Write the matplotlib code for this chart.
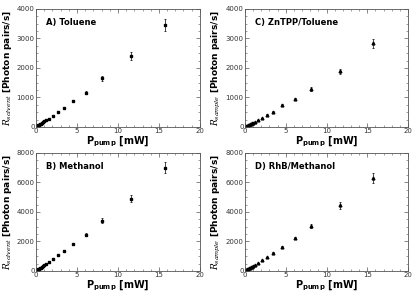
import matplotlib.pyplot as plt
from matplotlib.ticker import MultipleLocator

plt.rcParams['mathtext.fontset'] = 'custom'
plt.rcParams['mathtext.it'] = 'DejaVu Serif:italic'
plt.rcParams['mathtext.rm'] = 'DejaVu Serif'
plt.rcParams['mathtext.bf'] = 'DejaVu Sans:bold'

# pump power in mW (same set of points for all panels)
p_pump = [0.05, 0.1, 0.15, 0.2, 0.3, 0.4, 0.5, 0.6, 0.7, 0.8, 1.0, 1.2,
          1.6, 2.1, 2.7, 3.45, 4.5, 6.1, 8.1, 11.6, 15.7]

# A) Toluene (solvent)
r_toluene = [10, 20, 30, 40, 60, 80, 100, 115, 135, 155, 190, 230,
             280, 383, 500, 655, 890, 1165, 1650, 2400, 3450]
e_toluene = [0, 0, 0, 0, 0, 0, 0, 0, 0, 0, 0, 0,
             10, 12, 15, 20, 30, 45, 80, 130, 200]

# B) Methanol (solvent)
r_methanol = [20, 40, 60, 80, 120, 160, 200, 235, 275, 310, 390, 470,
              580, 780, 1050, 1350, 1800, 2450, 3400, 4900, 7000]
e_methanol = [0, 0, 0, 0, 0, 0, 0, 0, 0, 0, 0, 0,
              20, 25, 35, 45, 60, 90, 170, 260, 380]

# C) ZnTPP/Toluene (sample)
r_zntpp = [8, 15, 23, 30, 45, 60, 75, 90, 105, 120, 150, 180,
           240, 310, 420, 510, 740, 950, 1300, 1880, 2830]
e_zntpp = [0, 0, 0, 0, 0, 0, 0, 0, 0, 0, 0, 0,
           8, 10, 12, 15, 30, 40, 70, 100, 150]

# D) RhB/Methanol (sample)
r_rhb = [18, 36, 54, 72, 108, 144, 180, 215, 250, 285, 355, 430,
         540, 720, 930, 1220, 1650, 2250, 3050, 4450, 6300]
e_rhb = [0, 0, 0, 0, 0, 0, 0, 0, 0, 0, 0, 0,
         15, 20, 30, 40, 60, 80, 150, 220, 330]

fig = plt.figure(figsize=(4.16, 2.96), dpi=100)

panels = [
    ([0.0865, 0.571, 0.394, 0.399], r_toluene, e_toluene, 's', 'A) Toluene', 4000, 'solvent'),
    ([0.589, 0.571, 0.392, 0.399], r_zntpp, e_zntpp, '^', 'C) ZnTPP/Toluene', 4000, 'sample'),
    ([0.0865, 0.0845, 0.394, 0.399], r_methanol, e_methanol, 's', 'B) Methanol', 8000, 'solvent'),
    ([0.589, 0.0845, 0.392, 0.399], r_rhb, e_rhb, '^', 'D) RhB/Methanol', 8000, 'sample'),
]

for rect, y, err, marker, title, ymax, sub in panels:
    ax = fig.add_axes(rect)
    ax.errorbar(p_pump, y, yerr=err, fmt=marker, color='black', ms=2.0,
                elinewidth=0.5, capsize=0.8, capthick=0.5)
    ax.set_xlim(0, 20)
    ax.set_ylim(0, ymax)
    ax.xaxis.set_major_locator(MultipleLocator(5))
    ax.xaxis.set_minor_locator(MultipleLocator(1))
    ax.yaxis.set_major_locator(MultipleLocator(ymax / 4))
    ax.yaxis.set_minor_locator(MultipleLocator(ymax / 16))
    ax.tick_params(which='both', direction='in', top=True, right=True,
                   labelsize=5, labelcolor='#333333', pad=1, color='#555555')
    ax.tick_params(which='major', length=3, width=0.5)
    ax.tick_params(which='minor', length=1.5, width=0.4)
    for s in ax.spines.values():
        s.set_linewidth(0.6)
        s.set_color('#555555')
    ax.text(0.06, 0.92, title, transform=ax.transAxes, fontsize=6,
            fontweight='bold', va='top', ha='left')
    ax.set_xlabel(r'P$_{\mathbf{pump}}$ [mW]', fontsize=7, fontweight='bold', labelpad=0)
    ax.set_ylabel(r'$R_{%s}$ [Photon pairs/s]' % sub, fontsize=6.5,
                  fontweight='bold', labelpad=2)

fig.savefig('out.png', dpi=100)
